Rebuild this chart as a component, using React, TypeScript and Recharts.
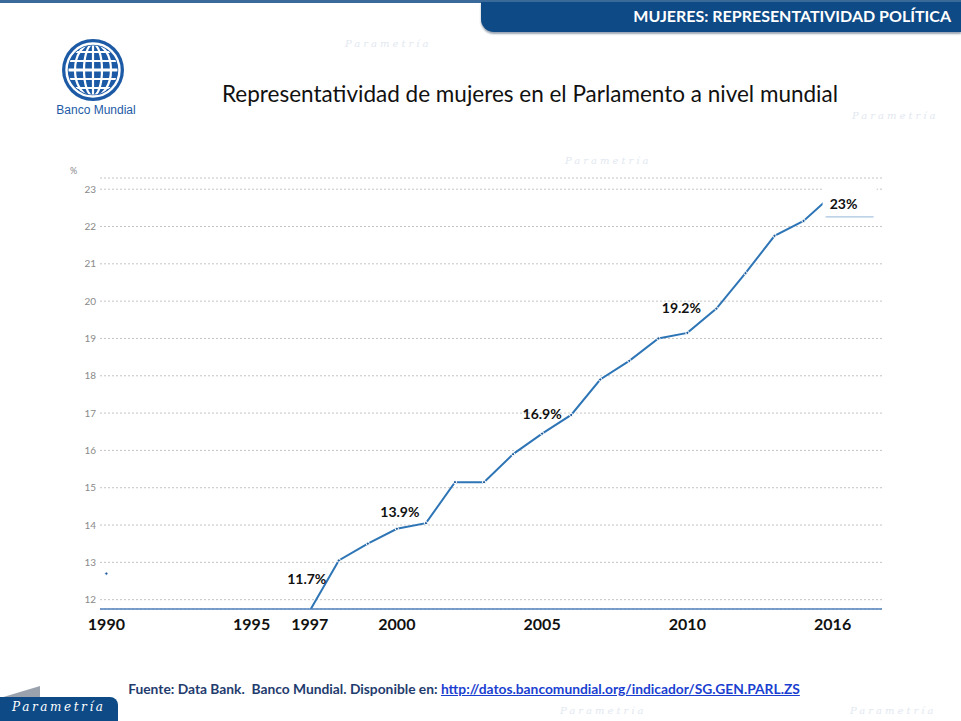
import React from "react";
import { CartesianGrid, LabelList, Line, LineChart, XAxis, YAxis } from "recharts";

// Proportion of seats held by women in national parliaments, world (%)
const YEARS = [
  1990, 1991, 1992, 1993, 1994, 1995, 1996, 1997, 1998, 1999, 2000, 2001, 2002,
  2003, 2004, 2005, 2006, 2007, 2008, 2009, 2010, 2011, 2012, 2013, 2014, 2015,
];
const SHARE: (number | null)[] = [
  12.7, null, null, null, null, null, null, 11.7, 13.05, 13.5, 13.9, 14.05, 15.15,
  15.15, 15.9, 16.45, 16.95, 17.9, 18.4, 19.0, 19.15, 19.8, 20.75, 21.75, 22.15, 22.85,
];
const ANNOTATION_YEARS = [1997, 2000, 2005, 2010, 2015];
const ANNOTATION_TEXT = ["11.7%", "13.9%", "16.9%", "19.2%", "23%"];

const X_TICKS = [1990, 1995, 1997, 2000, 2005, 2010, 2015];
const X_TICK_LABELS = ["1990", "1995", "1997", "2000", "2005", "2010", "2016"];
const Y_TICKS = [12, 13, 14, 15, 16, 17, 18, 19, 20, 21, 22, 23];

const LINE = "#2e75b6";
const NAVY = "#0d4a86";
const FONT = "Lato, 'Open Sans', sans-serif";

// label nudges relative to the point (style only)
const LABEL_NUDGE: Record<string, [number, number]> = {
  "1997": [-3, -32],
  "2000": [3, -17],
  "2005": [0, -20],
  "2010": [-6, -25],
  "2015": [11, 9],
};

const data = YEARS.map((year, i) => {
  const k = ANNOTATION_YEARS.indexOf(year);
  return { year, share: SHARE[i], note: k >= 0 ? ANNOTATION_TEXT[k] : "" };
});

function Annotation(props: any) {
  const { x, y, value, index } = props;
  if (!value) return null;
  const year = String(data[index].year);
  const [dx, dy] = LABEL_NUDGE[year] ?? [0, -18];
  const cx = x + dx;
  const cy = y + dy;
  const last = index === data.length - 1;
  return (
    <g>
      {last && <rect x={cx - 21} y={cy - 22} width={54} height={32} fill="#fff" />}
      {last && <line x1={cx - 18} x2={cx + 30} y1={cy + 13} y2={cy + 13} stroke="#a9c4e0" strokeWidth={1.2} />}
      <text
        x={cx}
        y={cy}
        textAnchor="middle"
        dominantBaseline="central"
        fontFamily={FONT}
        fontWeight={700}
        fontSize={14}
        fill="#111"
      >
        {value}
      </text>
    </g>
  );
}

function Globe() {
  return (
    <svg width={64} height={64} viewBox="-32 -32 64 64" style={{ position: "absolute", left: 61, top: 38 }}>
      <defs>
        <clipPath id="globeClip">
          <circle r={24.5} />
        </clipPath>
      </defs>
      <circle r={31} fill="#1d5aa5" />
      <circle r={26.5} fill="none" stroke="#fff" strokeWidth={2.4} />
      <g clipPath="url(#globeClip)" stroke="#fff" fill="none" strokeWidth={2.2}>
        <line x1={0} y1={-30} x2={0} y2={30} />
        <ellipse rx={9} ry={26} />
        <ellipse rx={18} ry={27} />
        <line x1={-30} y1={0} x2={30} y2={0} strokeWidth={3} />
        <line x1={-30} y1={-9} x2={30} y2={-9} />
        <line x1={-30} y1={9} x2={30} y2={9} />
        <line x1={-30} y1={-18} x2={30} y2={-18} />
        <line x1={-30} y1={18} x2={30} y2={18} />
      </g>
    </svg>
  );
}

const WATERMARKS: [number, number][] = [
  [345, 38], [565, 155], [852, 110], [560, 705], [850, 705],
];

export default function App() {
  return (
    <div
      style={{
        position: "absolute",
        left: 0,
        top: 0,
        width: 961,
        height: 721,
        background: "#fff",
        overflow: "hidden",
        fontFamily: FONT,
      }}
    >
      {WATERMARKS.map(([x, y], i) => (
        <div
          key={i}
          style={{
            position: "absolute",
            left: x,
            top: y,
            fontFamily: "'DejaVu Serif', serif",
            fontStyle: "italic",
            fontSize: 10,
            letterSpacing: 3,
            color: "#e2e8f0",
          }}
        >
          Parametría
        </div>
      ))}

      <div style={{ position: "absolute", left: 0, top: 0, width: 961, height: 3, background: "#3a6a9a" }} />
      <div
        style={{
          position: "absolute",
          left: 481,
          top: 2,
          width: 480,
          height: 30,
          background: NAVY,
          borderBottomLeftRadius: 13,
          boxShadow: "0 2px 2px #9aa6b3",
        }}
      />
      <div
        style={{
          position: "absolute",
          right: 10,
          top: 6,
          color: "#fff",
          fontWeight: 700,
          fontSize: 16,
          whiteSpace: "nowrap",
        }}
      >
        MUJERES: REPRESENTATIVIDAD POLÍTICA
      </div>

      <Globe />
      <div
        style={{
          position: "absolute",
          left: 40,
          width: 112,
          top: 103,
          textAlign: "center",
          fontFamily: "'Liberation Sans', Arial, sans-serif",
          fontSize: 12,
          color: "#1d5aa5",
        }}
      >
        Banco Mundial
      </div>

      <div
        style={{
          position: "absolute",
          left: 222,
          top: 80,
          fontSize: 22.5,
          color: "#111",
          whiteSpace: "nowrap",
        }}
      >
        Representatividad de mujeres en el Parlamento a nivel mundial
      </div>

      <div style={{ position: "absolute", left: 70, top: 165, fontSize: 9, color: "#888" }}>%</div>

      <div style={{ position: "absolute", left: 0, top: 0 }}>
        <LineChart width={961} height={721} data={data} margin={{ top: 178, right: 79, bottom: 82, left: 70 }}>
          <CartesianGrid horizontal vertical={false} stroke="#c4c4c4" strokeDasharray="2 2" />
          <XAxis
            dataKey="year"
            type="number"
            domain={[1989.78, 2016.7]}
            ticks={X_TICKS}
            tickFormatter={(v: number) => X_TICK_LABELS[X_TICKS.indexOf(v)]}
            allowDataOverflow
            axisLine={{ stroke: "#4f81bd", strokeWidth: 1.5 }}
            tickLine={false}
            tickSize={6}
            tickMargin={4}
            height={30}
            tick={{ fill: "#111", fontSize: 16, fontWeight: 700, fontFamily: FONT }}
          />
          <YAxis
            type="number"
            domain={[11.75, 23.3]}
            ticks={Y_TICKS}
            allowDataOverflow
            axisLine={false}
            tickLine={false}
            tickSize={0}
            tickMargin={4}
            width={30}
            tick={{ fill: "#8a8a8a", fontSize: 10, fontFamily: FONT }}
          />
          <Line
            type="linear"
            dataKey="share"
            stroke={LINE}
            strokeWidth={2}
            connectNulls={false}
            dot={{ r: 1.6, fill: "#1f5c9a", stroke: "#fff", strokeWidth: 1 }}
            isAnimationActive={false}
          >
            <LabelList dataKey="note" content={Annotation} />
          </Line>
        </LineChart>
      </div>

      <div
        style={{
          position: "absolute",
          left: 0,
          width: 928,
          top: 680,
          textAlign: "center",
          fontSize: 13.8,
          fontWeight: 700,
          color: "#1f3c6e",
          whiteSpace: "nowrap",
        }}
      >
        Fuente: Data Bank.&nbsp; Banco Mundial. Disponible en:{" "}
        <span style={{ color: "#1a3fd0", textDecoration: "underline" }}>
          http://datos.bancomundial.org/indicador/SG.GEN.PARL.ZS
        </span>
      </div>

      <div
        style={{
          position: "absolute",
          left: 0,
          top: 686,
          width: 0,
          height: 0,
          borderLeft: "40px solid transparent",
          borderBottom: "12px solid #9aa3ad",
        }}
      />
      <div
        style={{
          position: "absolute",
          left: 0,
          top: 697,
          width: 118,
          height: 24,
          background: NAVY,
          borderTopRightRadius: 8,
        }}
      />
      <div
        style={{
          position: "absolute",
          left: 12,
          top: 700,
          fontFamily: "'DejaVu Serif', serif",
          fontStyle: "italic",
          fontSize: 12,
          letterSpacing: 2.6,
          color: "#fff",
        }}
      >
        Parametría
      </div>
    </div>
  );
}
